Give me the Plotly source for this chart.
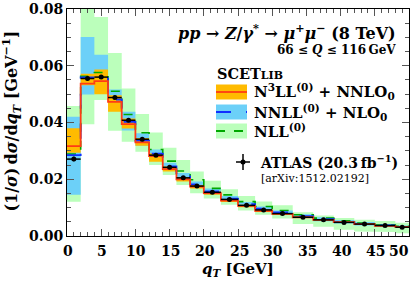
import plotly.graph_objects as go

# qT bin edges (GeV)
edges = [0, 2, 4, 6, 8, 10, 12, 14, 16, 18, 20, 22.5, 25, 27.5, 30, 33, 36, 39, 42, 45, 48, 50]

# ATLAS data
atlas = [0.0271, 0.0555, 0.0560, 0.0488, 0.0408, 0.0341, 0.0285, 0.0242, 0.0205, 0.0176,
         0.0154, 0.0129, 0.0108, 0.0092, 0.0079, 0.0066, 0.0057, 0.0048, 0.0042, 0.0037, 0.0031]
atlas_err = [0.0008, 0.0007, 0.0007, 0.0006, 0.0005, 0.0004, 0.0004, 0.0003, 0.0003, 0.0003,
             0.0002, 0.0002, 0.0002, 0.0002, 0.0002, 0.0001, 0.0001, 0.0001, 0.0001, 0.0001, 0.0001]

# N3LL(0)+NNLO0
n3ll = [0.0317, 0.0537, 0.0546, 0.0473, 0.0394, 0.0330, 0.0282, 0.0236, 0.0200, 0.0174,
        0.0151, 0.0125, 0.0106, 0.0089, 0.0078, 0.0066, 0.0057, 0.0049, 0.0042, 0.0036, 0.0032]
n3ll_lo = [0.0293, 0.0531, 0.0500, 0.0438, 0.0379, 0.0318, 0.0262, 0.0227, 0.0192, 0.0167,
           0.0145, 0.0120, 0.0101, 0.0085, 0.0074, 0.0063, 0.0054, 0.0046, 0.0040, 0.0034, 0.0030]
n3ll_hi = [0.0380, 0.0572, 0.0587, 0.0496, 0.0414, 0.0345, 0.0292, 0.0245, 0.0207, 0.0180,
           0.0157, 0.0130, 0.0110, 0.0093, 0.0081, 0.0069, 0.0059, 0.0051, 0.0044, 0.0038, 0.0033]

# NNLL(0)+NLO0
nnll = [0.0285, 0.0559, 0.0561, 0.0481, 0.0402, 0.0336, 0.0290, 0.0245, 0.0210, 0.0182,
        0.0157, 0.0132, 0.0112, 0.0096, 0.0083, 0.0070, 0.0059, 0.0050, 0.0043, 0.0037, 0.0032]
nnll_lo = [0.0145, 0.0499, 0.0503, 0.0450, 0.0372, 0.0318, 0.0270, 0.0230, 0.0196, 0.0170,
           0.0146, 0.0122, 0.0102, 0.0087, 0.0075, 0.0063, 0.0052, 0.0044, 0.0037, 0.0032, 0.0028]
nnll_hi = [0.0420, 0.0701, 0.0639, 0.0516, 0.0438, 0.0362, 0.0305, 0.0258, 0.0222, 0.0192,
           0.0167, 0.0141, 0.0120, 0.0104, 0.0090, 0.0077, 0.0066, 0.0056, 0.0049, 0.0042, 0.0037]

# NLL(0)
nll = [0.0289, 0.0563, 0.0576, 0.0510, 0.0428, 0.0364, 0.0305, 0.0264, 0.0229, 0.0198,
       0.0168, 0.0145, 0.0121, 0.0104, 0.0090, 0.0075, 0.0063, 0.0054, 0.0046, 0.0039, 0.0034]
nll_lo = [0.0121, 0.0394, 0.0479, 0.0371, 0.0332, 0.0297, 0.0250, 0.0215, 0.0180, 0.0151,
          0.0132, 0.0110, 0.0090, 0.0075, 0.0062, 0.0042, 0.0033, 0.0022, 0.0016, 0.0014, 0.0010]
nll_hi = [0.0458, 0.0830, 0.0772, 0.0645, 0.0520, 0.0430, 0.0365, 0.0311, 0.0268, 0.0227,
          0.0195, 0.0165, 0.0141, 0.0122, 0.0108, 0.0084, 0.0072, 0.0063, 0.0057, 0.0053, 0.0047]

x_ticks = [0, 5, 10, 15, 20, 25, 30, 35, 40, 45, 50]
y_ticks = [0.00, 0.02, 0.04, 0.06, 0.08]

C_GREEN_BAND = "#bbffbb"
C_BLUE_BAND = "#6cd0f8"
C_ORANGE_BAND = "#ffbb00"
C_RED = "#ff3c14"
C_BLUE = "#1030ff"
C_GREEN = "#00a800"

FONT = "DejaVu Serif"

n = len(atlas)


def band_xy(lo, hi):
    xs, ys = [], []
    for i in range(n):
        xs += [edges[i], edges[i + 1]]
        ys += [hi[i], hi[i]]
    for i in reversed(range(n)):
        xs += [edges[i + 1], edges[i]]
        ys += [lo[i], lo[i]]
    return xs, ys


fig = go.Figure()

for lo, hi, col in [(nll_lo, nll_hi, C_GREEN_BAND),
                    (nnll_lo, nnll_hi, C_BLUE_BAND),
                    (n3ll_lo, n3ll_hi, C_ORANGE_BAND)]:
    bx, by = band_xy(lo, hi)
    fig.add_trace(go.Scatter(x=bx, y=by, fill="toself", fillcolor=col,
                             line=dict(width=0), mode="lines", hoverinfo="skip",
                             showlegend=False))

for vals, col, dash, w in [(nll, C_GREEN, "dash", 1.6),
                           (nnll, C_BLUE, "longdash", 1.8),
                           (n3ll, C_RED, "solid", 1.8)]:
    fig.add_trace(go.Scatter(x=edges, y=vals + [vals[-1]], mode="lines",
                             line=dict(color=col, width=w, dash=dash, shape="hv"),
                             showlegend=False))

centers = [(edges[i] + edges[i + 1]) / 2 for i in range(n)]
halfw = [(edges[i + 1] - edges[i]) / 2 for i in range(n)]
fig.add_trace(go.Scatter(x=centers, y=atlas, mode="markers",
                         marker=dict(color="black", size=5),
                         error_x=dict(type="data", array=halfw, color="black", thickness=1.5, width=0),
                         error_y=dict(type="data", array=atlas_err, color="black", thickness=1.5, width=0),
                         showlegend=False))

# plot area in pixels
L, R, T, B = 67, 409, 9, 236
W, H = 415, 291


def px(x):
    return (x - L) / (R - L)


def py(y):
    return (B - y) / (B - T)


shapes = []
ann = []

# legend swatches
rows = [(92, C_ORANGE_BAND, C_RED, "solid"),
        (112, C_BLUE_BAND, C_BLUE, "longdash"),
        (131, C_GREEN_BAND, C_GREEN, "dash")]
for yc, bcol, lcol, dash in rows:
    shapes.append(dict(type="rect", xref="paper", yref="paper",
                       x0=px(216), x1=px(247), y0=py(yc + 7.5), y1=py(yc - 7.5),
                       fillcolor=bcol, line=dict(width=0), layer="above"))
    shapes.append(dict(type="line", xref="paper", yref="paper",
                       x0=px(216), x1=px(247), y0=py(yc), y1=py(yc),
                       line=dict(color=lcol, width=1.8, dash=dash), layer="above"))

# ATLAS legend marker
shapes.append(dict(type="line", xref="paper", yref="paper", x0=px(236), x1=px(250),
                   y0=py(162), y1=py(162), line=dict(color="black", width=1.5)))
shapes.append(dict(type="line", xref="paper", yref="paper", x0=px(243), x1=px(243),
                   y0=py(154), y1=py(170), line=dict(color="black", width=1.5)))
shapes.append(dict(type="circle", xref="paper", yref="paper", x0=px(240.5), x1=px(245.5),
                   y0=py(164.5), y1=py(159.5), fillcolor="black", line=dict(width=0)))


def add_text(x, y, text, size, xanchor="left", angle=0, bold=True):
    ann.append(dict(x=px(x), y=py(y), xref="paper", yref="paper", text=text,
                    showarrow=False, xanchor=xanchor, yanchor="middle", textangle=angle,
                    font=dict(family=FONT, size=size, color="black",
                              weight="bold" if bold else "normal")))


TS = "\u2009"  # thin space
add_text(398, 32, "<i>pp</i> → <i>Z</i>/<i>γ</i><sup>*</sup> → "
         "<i>μ</i><sup>+</sup><i>μ</i><sup>−</sup> (8 TeV)", 16, "right")
add_text(398, 50, "66 ≤ <i>Q</i> ≤ 116" + TS + "GeV", 12, "right")
add_text(215, 73, "SCET<span style='font-size:11px'>LIB</span>", 14.5)
add_text(252, 92, "N<sup>3</sup>LL<sup>(0)</sup> + NNLO<sub>0</sub>", 15)
add_text(252, 112, "NNLL<sup>(0)</sup> + NLO<sub>0</sub>", 15)
add_text(252, 131, "NLL<sup>(0)</sup>", 15)
add_text(258, 162, "ATLAS (20.3" + TS + "fb<sup>−1</sup>)", 14)
add_text(259, 178, "[arXiv:1512.02192]", 11, bold=False)

# axis titles
add_text(12, 121.5, "(1/<i>σ</i>)" + TS + "d<i>σ</i>/d<i>q<sub>T</sub></i> [GeV<sup>−1</sup>]", 16,
         "center", -90)
add_text(238, 269, "<i>q<sub>T</sub></i> [GeV]", 15, "center")

# x tick labels
for v in x_ticks:
    last = v == x_ticks[-1]
    ann.append(dict(x=v, y=py(251), xref="x", yref="paper", text=str(v),
                    showarrow=False, xanchor="right" if last else "center",
                    xshift=2 if last else 1, yanchor="middle",
                    font=dict(family=FONT, size=14, color="black", weight="bold")))

fig.update_layout(
    width=W, height=H,
    margin=dict(l=L, r=W - R, t=T, b=H - B),
    plot_bgcolor="white", paper_bgcolor="white",
    showlegend=False,
    shapes=shapes, annotations=ann,
    font=dict(family=FONT, color="black"),
)

fig.update_xaxes(
    range=[0, 50], tickvals=x_ticks, showticklabels=False, automargin=False,
    showline=True, linecolor="black", linewidth=1, mirror="ticks",
    ticks="inside", ticklen=7, tickcolor="#555", tickwidth=1,
    minor=dict(dtick=1, ticks="inside", ticklen=4, tickcolor="#555", tickwidth=1),
    showgrid=False, zeroline=False,
)
fig.update_yaxes(
    range=[0, 0.08], tickvals=y_ticks, ticktext=["%.2f" % v for v in y_ticks], automargin=False,
    showline=True, linecolor="black", linewidth=1, mirror="ticks",
    ticks="inside", ticklen=7, tickcolor="#555", tickwidth=1,
    minor=dict(dtick=0.005, ticks="inside", ticklen=4, tickcolor="#555", tickwidth=1),
    showgrid=False, zeroline=False,
    tickfont=dict(family=FONT, size=14, weight="bold"),
)

fig.write_html("out.html", config={"displayModeBar": False},
               post_script="document.body.style.margin='0';document.body.style.overflow='hidden';")
